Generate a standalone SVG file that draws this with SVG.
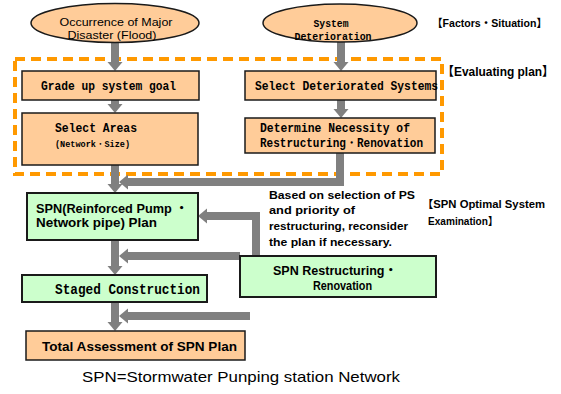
<svg xmlns="http://www.w3.org/2000/svg" width="561" height="394" viewBox="0 0 561 394">
  <style>
    .peach { fill: #FFCC99; stroke: #1a1a1a; stroke-width: 1.5; }
    .green { fill: #CCFFCC; stroke: #1a1a1a; stroke-width: 2; }
    .mono { font-family: "Liberation Mono", "DejaVu Sans Mono", monospace; font-weight: bold; fill: #000; }
    .sans { font-family: "Liberation Sans", "Noto Sans CJK JP", sans-serif; fill: #000; }
    .b { font-weight: bold; }
    .conn { fill: none; stroke: #808080; stroke-width: 8; stroke-linejoin: miter; }
  </style>
  <defs>
    <marker id="head" markerUnits="userSpaceOnUse" viewBox="0 -8 9 16" refX="0" refY="0" markerWidth="9" markerHeight="16" orient="auto">
      <path d="M0,-7.5 L9,0 L0,7.5 Z" fill="#808080"/>
    </marker>
  </defs>

  <rect width="561" height="394" fill="#FFFFFF"/>

  <!-- evaluating-plan frame -->
  <rect x="15" y="59" width="427" height="115" fill="none" stroke="#FF9900" stroke-width="4" stroke-dasharray="10 6"/>

  <!-- connectors -->
  <g id="connectors">
    <path class="conn" d="M115,42 V62" marker-end="url(#head)"/>
    <path class="conn" d="M115,100 V104" marker-end="url(#head)"/>
    <path class="conn" d="M341,42 V62" marker-end="url(#head)"/>
    <path class="conn" d="M341,100 V109" marker-end="url(#head)"/>
    <path class="conn" d="M340,153 V182 H128" marker-end="url(#head)"/>
    <path class="conn" d="M115,165 V184" marker-end="url(#head)"/>
    <path class="conn" d="M256,256 V216 H207" marker-end="url(#head)"/>
    <path class="conn" d="M240,256 H128" marker-end="url(#head)"/>
    <path class="conn" d="M115,240 V266" marker-end="url(#head)"/>
    <path class="conn" d="M115,302 V322" marker-end="url(#head)"/>
    <path class="conn" d="M250,316 H128" marker-end="url(#head)"/>
  </g>

  <!-- factors -->
  <g id="disaster">
    <ellipse class="peach" cx="115" cy="23" rx="84" ry="19.5" stroke-width="1"/>
    <text class="sans" x="116" y="25.5" font-size="11.5" text-anchor="middle" textLength="113" lengthAdjust="spacingAndGlyphs">Occurrence of Major</text>
    <text class="sans" x="112" y="38.5" font-size="11.5" text-anchor="middle" textLength="89" lengthAdjust="spacingAndGlyphs">Disaster (Flood)</text>
  </g>
  <g id="deterioration">
    <ellipse class="peach" cx="340" cy="23" rx="77" ry="19" stroke-width="1"/>
    <text class="mono" x="331" y="26.5" font-size="11.5" text-anchor="middle" textLength="35" lengthAdjust="spacingAndGlyphs">System</text>
    <text class="mono" x="333" y="39.5" font-size="11.5" text-anchor="middle" textLength="77" lengthAdjust="spacingAndGlyphs">Deterioration</text>
  </g>

  <!-- evaluating plan -->
  <g id="grade-up">
    <rect class="peach" x="22" y="71" width="177" height="29"/>
    <text class="mono" x="41" y="90" font-size="13" textLength="135" lengthAdjust="spacingAndGlyphs">Grade up system goal</text>
  </g>
  <g id="select-areas">
    <rect class="peach" x="22" y="113" width="176" height="52"/>
    <text class="mono" x="55" y="132" font-size="13" textLength="82" lengthAdjust="spacingAndGlyphs">Select Areas</text>
    <text class="mono" x="55" y="147" font-size="9" textLength="75" lengthAdjust="spacingAndGlyphs">(Network・Size)</text>
  </g>
  <g id="select-deteriorated">
    <rect class="peach" x="245" y="71" width="191" height="29"/>
    <text class="mono" x="255" y="90" font-size="13" textLength="183" lengthAdjust="spacingAndGlyphs">Select Deteriorated Systems</text>
  </g>
  <g id="determine-necessity">
    <rect class="peach" x="245" y="118" width="190" height="35"/>
    <text class="mono" x="260" y="132" font-size="13" textLength="150" lengthAdjust="spacingAndGlyphs">Determine Necessity of</text>
    <text class="mono" x="260" y="147" font-size="13" textLength="163" lengthAdjust="spacingAndGlyphs">Restructuring・Renovation</text>
  </g>

  <!-- optimal system examination -->
  <g id="spn-plan">
    <rect class="green" x="27" y="193" width="171" height="47"/>
    <text class="sans b" x="36" y="213" font-size="12.5" textLength="152" lengthAdjust="spacingAndGlyphs">SPN(Reinforced Pump ・</text>
    <text class="sans b" x="36" y="227" font-size="12.5" textLength="121" lengthAdjust="spacingAndGlyphs">Network pipe) Plan</text>
  </g>
  <g id="staged-construction">
    <rect class="green" x="22" y="275" width="185" height="27"/>
    <text class="mono" x="55" y="294" font-size="14.5" textLength="145" lengthAdjust="spacingAndGlyphs">Staged Construction</text>
  </g>
  <g id="restructuring">
    <rect class="green" x="240" y="256" width="196" height="41"/>
    <text class="sans b" x="273" y="275" font-size="12.5" textLength="124" lengthAdjust="spacingAndGlyphs">SPN Restructuring・</text>
    <text class="sans b" x="313" y="290" font-size="12.5" textLength="59" lengthAdjust="spacingAndGlyphs">Renovation</text>
  </g>
  <g id="total-assessment">
    <rect class="peach" x="26" y="331" width="219" height="29"/>
    <text class="sans b" x="42" y="351" font-size="12.5" textLength="195" lengthAdjust="spacingAndGlyphs">Total Assessment of SPN Plan</text>
  </g>

  <!-- annotations -->
  <g id="note" class="sans b" font-size="10.5">
    <text x="269" y="199" textLength="146" lengthAdjust="spacingAndGlyphs">Based on selection of PS</text>
    <text x="269" y="214" textLength="86" lengthAdjust="spacingAndGlyphs">and priority of</text>
    <text x="269" y="230" textLength="139" lengthAdjust="spacingAndGlyphs">restructuring, reconsider</text>
    <text x="269" y="246" textLength="123" lengthAdjust="spacingAndGlyphs">the plan if necessary.</text>
  </g>
  <g id="labels" class="sans b">
    <text x="432" y="27" font-size="11" textLength="115" lengthAdjust="spacingAndGlyphs">【Factors・Situation】</text>
    <text x="442" y="76" font-size="12.5" textLength="112" lengthAdjust="spacingAndGlyphs">【Evaluating plan】</text>
    <text x="422" y="208" font-size="10.5" textLength="123" lengthAdjust="spacingAndGlyphs">【SPN Optimal System</text>
    <text x="428" y="225" font-size="10.5" textLength="70" lengthAdjust="spacingAndGlyphs">Examination】</text>
  </g>

  <text class="sans" x="82" y="382" font-size="14.5" textLength="318" lengthAdjust="spacingAndGlyphs">SPN=Stormwater Punping station Network</text>
</svg>
